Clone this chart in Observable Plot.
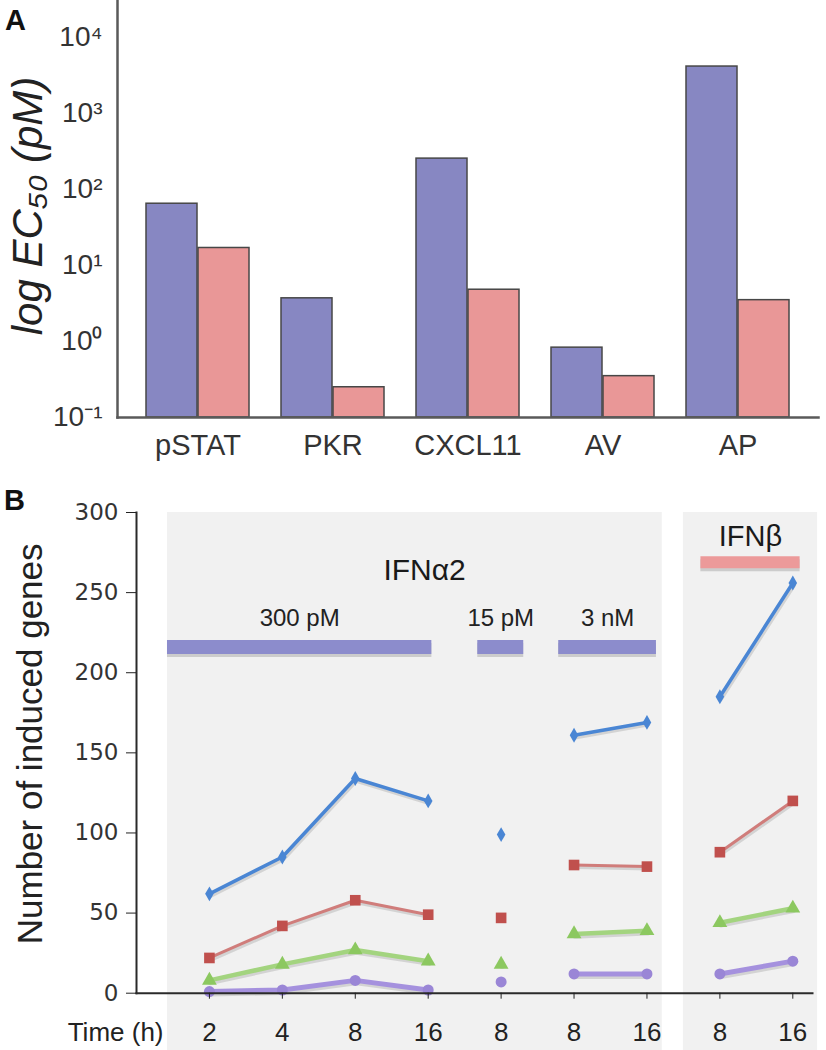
<!DOCTYPE html>
<html><head><meta charset="utf-8">
<script src="https://cdn.jsdelivr.net/npm/d3@7"></script>
<script src="https://cdn.jsdelivr.net/npm/@observablehq/plot@0.6"></script>
<style>
body{margin:0;background:#fff;}
#chart svg{display:block;}
</style></head><body><div id="chart"></div>
<script>
// ---------- Panel A data ----------
const categories = ["pSTAT", "PKR", "CXCL11", "AV", "AP"];
const ec50IFNa2 = [65, 3.7, 255, 0.83, 4150];
const ec50IFNb = [17, 0.25, 4.8, 0.35, 3.5];
const ticksA = [0.1, 1, 10, 100, 1000, 10000];
const tickLabelsA = ["10⁻¹", "10⁰", "10¹", "10²", "10³", "10⁴"];

// ---------- Panel B data ----------
const timeLabels = ["2", "4", "8", "16", "8", "8", "16", "8", "16"];
const conditions = ["300 pM", "300 pM", "300 pM", "300 pM", "15 pM", "3 nM", "3 nM", "IFNβ", "IFNβ"];
const genesBlue = [62, 85, 134, 120, 99, 161, 169, 185, 256];
const genesRed = [22, 42, 58, 49, 47, 80, 79, 88, 120];
const genesGreen = [8, 18, 27, 20, 18, 37, 39, 44, 53];
const genesPurple = [1, 2, 8, 2, 7, 12, 12, 12, 20];
const ticksB = [0, 50, 100, 150, 200, 250, 300];
const doseLabels = ["300 pM", "15 pM", "3 nM"];
const groupLabels = ["IFNα2", "IFNβ"];

// ---------- layout (not data) ----------
const W = 826;
const halfBar = 52;
const fontSans = "'Liberation Sans', Arial, Helvetica, sans-serif";
const doseBarX = [[-0.575, 3.05], [3.68, 4.31], [4.79, 6.13]];
const betaBarX = [6.74, 8.1];
const bgX = [[-0.575, 6.21], [6.5, 8.34]];
const bgBottom = -36;
const doseBarY = 216, doseLabelY = 234, alphaLabelY = 264, alphaLabelX = 2.95, betaBarY = 269, betaLabelY = 285;

// ---------- Panel A ----------
const rowsA = categories.flatMap((c, i) => [
  {cat: c, series: "IFNα2", value: ec50IFNa2[i]},
  {cat: c, series: "IFNβ", value: ec50IFNb[i]}
]);

const plotA = Plot.plot({
  width: W, height: 470,
  marginLeft: 117, marginRight: 8, marginTop: 0, marginBottom: 53,
  style: {fontFamily: fontSans, color: "#333", background: "#fff"},
  x: {type: "band", domain: categories, paddingInner: 0.235, paddingOuter: 0.195},
  y: {type: "log", domain: [0.1, Math.pow(10, 4.487)]},
  marks: [
    Plot.barY(rowsA.filter(d => d.series === "IFNα2"), {x: "cat", y1: () => ticksA[0], y2: "value", fill: "#8787c2", stroke: "#474747", strokeWidth: 1.5, insetRight: halfBar}),
    Plot.barY(rowsA.filter(d => d.series === "IFNβ"), {x: "cat", y1: () => ticksA[0], y2: "value", fill: "#e99797", stroke: "#474747", strokeWidth: 1.5, insetLeft: halfBar}),
    Plot.frame({anchor: "left", stroke: "#5a5a5a", strokeWidth: 2.5}),
    Plot.frame({anchor: "bottom", stroke: "#5a5a5a", strokeWidth: 2.5}),
    Plot.axisY({ticks: ticksA, tickFormat: d => tickLabelsA[ticksA.indexOf(d)], tickSize: 0, tickPadding: 15, fontSize: 28, label: null}),
    Plot.axisX({tickSize: 0, tickPadding: 17, fontSize: 29, label: null}),
    Plot.text(["log EC₅₀ (pM)"], {text: d => d, frameAnchor: "left", textAnchor: "middle", lineAnchor: "middle", dx: -89, dy: -3, rotate: -90, fontSize: 42, fontStyle: "italic", fill: "#222"}),
    Plot.text(["A"], {text: d => d, frameAnchor: "top-left", textAnchor: "middle", lineAnchor: "middle", dx: -102, dy: 20, fontSize: 29, fontWeight: "bold", fill: "#111"})
  ]
});

// ---------- Panel B ----------
const seriesB = [
  {name: "blue", values: genesBlue, stroke: "#4a86d4", fill: "#4a86d4", symbol: "diamond", r: 4.5, sw: 3.5},
  {name: "red", values: genesRed, stroke: "#d07d7b", fill: "#c0504d", symbol: "square", r: 6, sw: 3},
  {name: "green", values: genesGreen, stroke: "#a3d47f", fill: "#8cc860", symbol: "triangle", r: 5.5, sw: 4.5},
  {name: "purple", values: genesPurple, stroke: "#a591de", fill: "#9a86d6", symbol: "circle", r: 5.5, sw: 5}
];
const rowsB = seriesB.flatMap(s => s.values.map((v, i) => ({series: s.name, i, value: v, cond: conditions[i]})));

const bgRows = groupLabels.map((g, k) => ({group: g, x1: bgX[k][0], x2: bgX[k][1]}));
const doseRows = doseLabels.map((d, k) => ({label: d, x1: doseBarX[k][0], x2: doseBarX[k][1]}));

const lineMarks = seriesB.flatMap(s => {
  const rows = rowsB.filter(d => d.series === s.name);
  return [
    Plot.line(rows, {x: "i", y: "value", z: "cond", stroke: "#000", strokeOpacity: 0.12, strokeWidth: s.sw + 1, dx: 1, dy: 2}),
    Plot.line(rows, {x: "i", y: "value", z: "cond", stroke: s.stroke, strokeWidth: s.sw}),
    Plot.dot(rows, {x: "i", y: "value", symbol: () => s.symbol, r: s.r, fill: s.fill, stroke: "none"})
  ];
});

const plotB = Plot.plot({
  width: W, height: 580,
  marginLeft: 136, marginRight: 14, marginTop: 42, marginBottom: 57.3,
  style: {fontFamily: fontSans, color: "#222", background: "#fff"},
  x: {domain: [-1, 8.27]},
  y: {domain: [0, 300]},
  marks: [
    Plot.rect(bgRows, {x1: "x1", x2: "x2", y1: () => bgBottom, y2: () => ticksB[ticksB.length - 1], fill: "#f1f1f1"}),
    Plot.ruleY(doseRows, {x1: "x1", x2: "x2", y: () => doseBarY, stroke: "#888", strokeOpacity: 0.35, strokeWidth: 14, dy: 3}),
    Plot.ruleY(doseRows, {x1: "x1", x2: "x2", y: () => doseBarY, stroke: "#8c8ccc", strokeWidth: 14}),
    Plot.text(doseRows, {x: d => (d.x1 + d.x2) / 2, y: () => doseLabelY, text: "label", fontSize: 24, fill: "#222"}),
    Plot.text([groupLabels[0]], {x: () => alphaLabelX, y: () => alphaLabelY, text: d => d, fontSize: 30, fill: "#1a1a1a"}),
    Plot.ruleY([groupLabels[1]], {x1: () => betaBarX[0], x2: () => betaBarX[1], y: () => betaBarY, stroke: "#888", strokeOpacity: 0.35, strokeWidth: 12, dy: 3}),
    Plot.ruleY([groupLabels[1]], {x1: () => betaBarX[0], x2: () => betaBarX[1], y: () => betaBarY, stroke: "#ec9a9a", strokeWidth: 12}),
    Plot.text([groupLabels[1]], {x: () => (betaBarX[0] + betaBarX[1]) / 2, y: () => betaLabelY, text: d => d, fontSize: 29, fill: "#1a1a1a"}),
    ...lineMarks,
    Plot.frame({anchor: "left", stroke: "#2a2a2a", strokeWidth: 2}),
    Plot.frame({anchor: "bottom", stroke: "#2a2a2a", strokeWidth: 2}),
    Plot.axisY({ticks: ticksB, tickSize: 10, tickPadding: 8, fontSize: 23, fontFamily: "'DejaVu Sans', Verdana, sans-serif", fill: "#333", label: null}),
    Plot.axisX({ticks: d3.range(timeLabels.length), tickFormat: i => timeLabels[i], tickSize: 6, tickPadding: 23, fontSize: 26, label: null}),
    Plot.text(["Time (h)"], {text: d => d, frameAnchor: "bottom-left", textAnchor: "end", lineAnchor: "middle", dx: 27, dy: 39, fontSize: 26, fill: "#222"}),
    Plot.text(["Number of induced genes"], {text: d => d, frameAnchor: "left", textAnchor: "middle", lineAnchor: "middle", dx: -106, dy: -9, rotate: -90, fontSize: 35, fill: "#222"}),
    Plot.text(["B"], {text: d => d, frameAnchor: "top-left", textAnchor: "middle", lineAnchor: "middle", dx: -122, dy: -12, fontSize: 29, fontWeight: "bold", fill: "#111"})
  ]
});

const chart = document.getElementById("chart");
chart.appendChild(plotA);
chart.appendChild(plotB);
</script></body></html>
